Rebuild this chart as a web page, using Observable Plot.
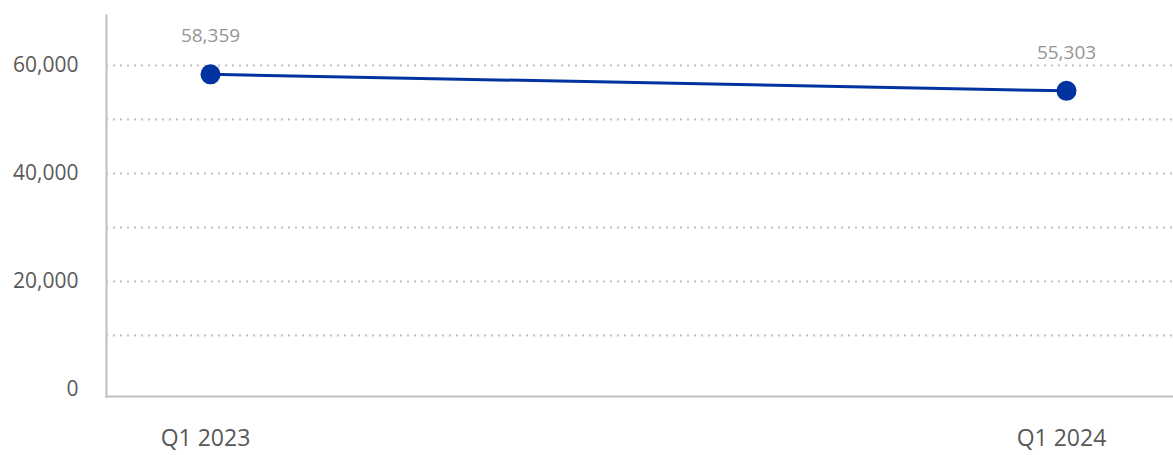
<!DOCTYPE html>
<html>
<head>
<meta charset="utf-8">
<script src="https://cdn.jsdelivr.net/npm/d3@7"></script>
<script src="https://cdn.jsdelivr.net/npm/@observablehq/plot@0.6"></script>
<style>
  html, body { margin: 0; padding: 0; background: #ffffff; }
  #chart svg { display: block; }
</style>
</head>
<body>
<div id="chart"></div>
<script>
const quarters = ["Q1 2023", "Q1 2024"];
const values = [58359, 55303];
const yTickLabels = [0, 20000, 40000, 60000];
const gridValues = [10000, 20000, 30000, 40000, 50000, 60000];

const data = quarters.map((q, i) => ({quarter: q, value: values[i]}));
const fmt = d3.format(",");
const font = "'Open Sans', 'Noto Sans', sans-serif";

const chart = Plot.plot({
  width: 1173,
  height: 455,
  marginLeft: 106,
  marginRight: 0,
  marginTop: 15,
  marginBottom: 59,
  style: {fontFamily: font, background: "#ffffff"},
  x: {type: "point", domain: quarters, range: [210, 1066], padding: 0},
  y: {domain: [0, 70000], range: [389, 11]},
  marks: [
    Plot.gridY(gridValues, {stroke: "#bfbfbf", strokeOpacity: 1, strokeWidth: 2, strokeDasharray: "2 5"}),
    Plot.frame({anchor: "left", stroke: "#bfbfbf", strokeWidth: 2}),
    Plot.frame({anchor: "bottom", stroke: "#bfbfbf", strokeWidth: 2}),
    Plot.axisY(yTickLabels, {tickSize: 0, tickPadding: 28, tickFormat: fmt, fontSize: 21, fill: "#595959", label: null}),
    Plot.axisX({tickSize: 0, tickPadding: 33, dx: -5, fontSize: 23, fill: "#595959", label: null}),
    Plot.line(data, {x: "quarter", y: "value", stroke: "#0033a0", strokeWidth: 3}),
    Plot.dot(data, {x: "quarter", y: "value", r: 10, fill: "#0033a0", stroke: "none"}),
    Plot.text(data, {x: "quarter", y: "value", text: d => fmt(d.value), dy: -38, fontSize: 19, fill: "#959595"})
  ]
});
document.getElementById("chart").appendChild(chart);
</script>
</body>
</html>
